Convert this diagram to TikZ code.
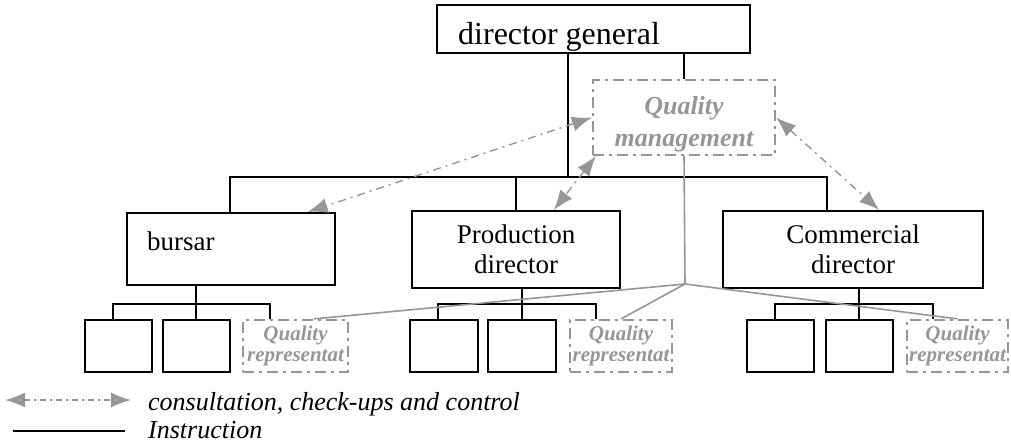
\documentclass[tikz,border=0pt]{standalone}
\usepackage{fontspec}
\setmainfont{Liberation Serif}
\usepackage{tikz}
\usetikzlibrary{arrows.meta,calc}
\definecolor{qgray}{RGB}{150,150,150}

\begin{document}
\begin{tikzpicture}[x=1pt, y=-1pt, >={Latex[length=20pt,width=15pt]},
  post/.style={draw, line width=2pt, inner sep=0pt},
  qpost/.style={draw=qgray, text=qgray, line width=2.2pt, inner sep=0pt,
    dash pattern=on 11pt off 5pt on 3pt off 5pt},
  instr/.style={line width=2pt},
  qline/.style={draw=qgray, line width=1.6pt},
  consult/.style={<->, draw=qgray, line width=1.4pt,
    dash pattern=on 8pt off 5pt on 2pt off 5pt}]
  \useasboundingbox (0,0) rectangle (1011,444);

  \begin{scope}[font=\fontsize{27}{30}\selectfont]

  % top level
  \node[post, minimum width=313pt, minimum height=48pt] (dg) at (593.5,29) {};
  \node[anchor=base west, inner sep=0pt, font=\fontsize{32}{32}\selectfont] (dgtext) at (458,45) {director general};

  \node[qpost, minimum width=182pt, minimum height=75pt] (qm) at (684,117.5) {};
  \node[align=center, text=qgray, font=\fontsize{26}{32}\selectfont\bfseries\itshape] (qmtext) at (684,124) {Quality\\management};

  % directors
  \node[post, minimum width=208pt, minimum height=72pt] (bursar) at (231,249) {};
  \node[anchor=base west, inner sep=0pt] (bursartext) at (147,250) {bursar};

  \node[post, minimum width=208pt, minimum height=77pt, align=center] (prod) at (516,249.5) {Production\\director};
  \node[post, minimum width=260pt, minimum height=77pt, align=center] (comm) at (853,249.5) {Commercial\\director};

  % departments
  \node[post, minimum width=67pt, minimum height=52pt] (b1) at (118.5,346) {};
  \node[post, minimum width=67pt, minimum height=52pt] (b2) at (196,346) {};
  \node[post, minimum width=68pt, minimum height=52pt] (p1) at (444,346) {};
  \node[post, minimum width=68pt, minimum height=52pt] (p2) at (522,346) {};
  \node[post, minimum width=67pt, minimum height=52pt] (c1) at (780.5,346) {};
  \node[post, minimum width=67pt, minimum height=52pt] (c2) at (859,346) {};

  \node[qpost, minimum width=105pt, minimum height=52pt, align=center, font=\fontsize{21}{21}\selectfont\bfseries\itshape] (bq) at (295.5,346) {Quality\\representat};
  \node[qpost, minimum width=102pt, minimum height=52pt, align=center, font=\fontsize{21}{21}\selectfont\bfseries\itshape] (pq) at (621,346) {Quality\\representat};
  \node[qpost, minimum width=101pt, minimum height=52pt, align=center, font=\fontsize{21}{21}\selectfont\bfseries\itshape] (cq) at (957.5,346) {Quality\\representat};

  % instruction lines
  \coordinate (dgdrop) at (568,177);
  \coordinate (busl) at (230,177);
  \coordinate (busr) at (827,177);
  \draw[instr] (dg.south -| dgdrop) -- (dgdrop);
  \draw[instr] (dg.south -| qm.north) -- (qm.north);
  \draw[instr] (bursar.north -| busl) -- (busl) -- (busr) -- (busr |- comm.north);
  \draw[instr] (prod.north) -- (prod.north |- busl);

  \foreach \p/\a/\b/\q in {bursar/b1/b2/bq, prod/p1/p2/pq, comm/c1/c2/cq} {
    \draw[instr] (\p.south -| \b.north) -- (\b.north);
    \draw[instr] ($(\a.north west)!0.42!(\a.north east)$) -- ++(0,-15) -| ($(\q.north west)!0.26!(\q.north east)$);
  }

  % quality network
  \coordinate (qhub) at (685,284);
  \draw[qline] (qm.south) -- (qhub);
  \draw[qline] (qhub) -- ($(bq.north west)!0.67!(bq.north east)$);
  \draw[qline] (qhub) -- (pq.north);
  \draw[qline] (qhub) -- (cq.north);

  \draw[consult] (qm.west) -- ($(bursar.north west)!0.865!(bursar.north east)$);
  \draw[consult] ($(qm.south west)+(4,0)$) -- ($(prod.north west)!0.68!(prod.north east)$);
  \draw[consult] (qm.east) -- ($(comm.north west)!0.6!(comm.north east)$);

  % legend
  \coordinate (lga) at (5,400);
  \coordinate (lgb) at (131,400);
  \coordinate (lgc) at (13,431);
  \coordinate (lgd) at (125,431);
  \draw[consult, dash pattern=on 6pt off 4pt on 2pt off 4pt] (lga) -- (lgb);
  \draw[instr, line width=1.4pt] (lgc) -- (lgd);
  \node[anchor=base west, inner sep=0pt, font=\fontsize{26}{26}\selectfont\itshape] (lgtext1) at (148,410) {consultation, check-ups and control};
  \node[anchor=base west, inner sep=0pt, font=\fontsize{26}{26}\selectfont\itshape] (lgtext2) at (148,438) {Instruction};

  \end{scope}
\end{tikzpicture}
\end{document}
